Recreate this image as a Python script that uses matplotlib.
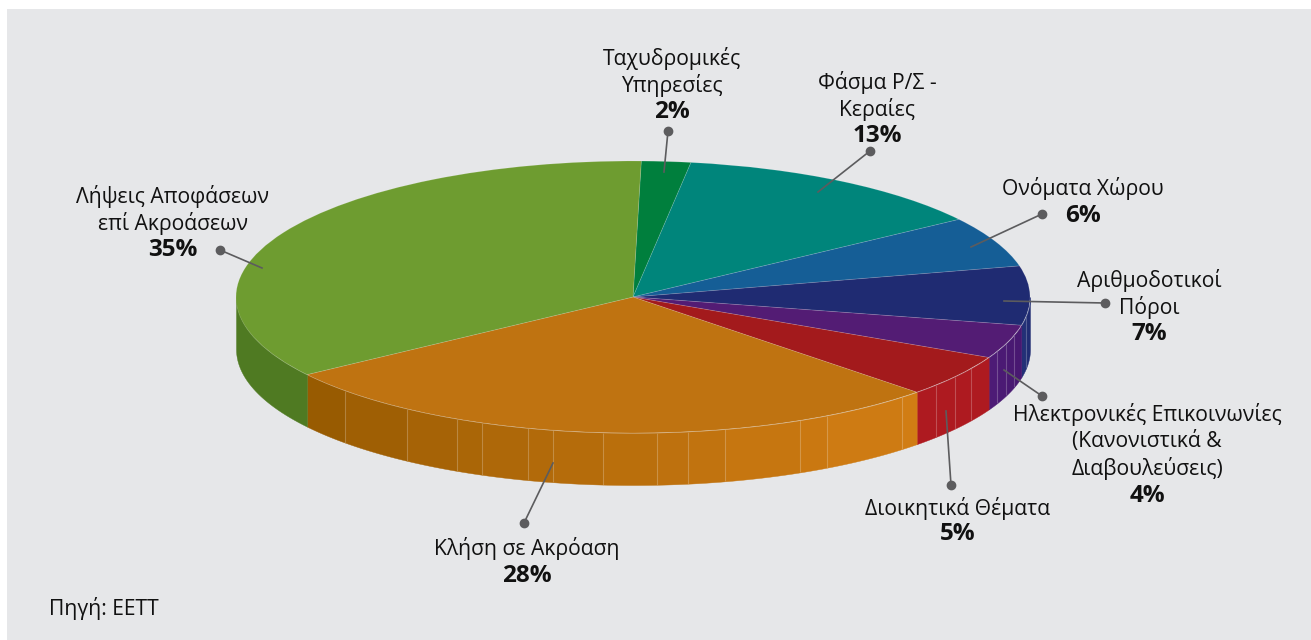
import numpy as np
import matplotlib
matplotlib.use('Agg')
import matplotlib.pyplot as plt
from matplotlib.colors import to_rgb
from matplotlib.patches import Rectangle

plt.rcParams['font.family'] = ['Open Sans', 'DejaVu Sans']

W, H = 1311, 640

names = ['Ταχυδρομικές\nΥπηρεσίες', 'Φάσμα Ρ/Σ -\nΚεραίες', 'Ονόματα Χώρου', 'Αριθμοδοτικοί\nΠόροι',
         'Ηλεκτρονικές Επικοινωνίες\n(Κανονιστικά &\nΔιαβουλεύσεις)', 'Διοικητικά Θέματα',
         'Κλήση σε Ακρόαση', 'Λήψεις Αποφάσεων\nεπί Ακροάσεων']
shares = [2, 13, 6, 7, 4, 5, 28, 35]
top_colors = ['#007F3D', '#00857B', '#155E96', '#1F2B72', '#531C74', '#A31A1C', '#BF7311', '#6E9C30']
side_left = ['#007F3D', '#00857B', '#155E96', '#26337A', '#4F1C78', '#AE1A20', '#935800', '#4F7A22']
side_right = ['#007F3D', '#00857B', '#155E96', '#1F2B72', '#471870', '#AE1A20', '#D27D14', '#4F7A22']

# where the pale seams sit on the rim, as x on the unit pie
seams = [-0.725, -0.569, -0.443, -0.380, -0.264, -0.202, -0.076, 0.060, 0.139, 0.232, 0.421, 0.489, 0.678,
         0.763, 0.811, 0.851, 0.917, 0.940, 0.960, 0.990]

# label text anchor, leader dot and leader end, in pixels
label_xy = [(672, 58), (877, 82), (1083, 189), (1149, 280), (1147, 414), (958, 508), (527, 549), (173, 196)]
dot_xy = [(668, 131), (870, 151), (1042, 214), (1105, 303), (1042, 396), (951, 485), (524, 523), (220, 250)]
end_xy = [(664, 172), (818, 192), (971, 247), (1004, 301), (1004, 370), (946, 411), (553, 463), (262, 268)]
line_px = 27.5

cx, cy, rx, ry, depth = 633, 297, 397, 136, 52
start = 88.8

fig = plt.figure(figsize=(W / 100, H / 100), dpi=100)
bg = fig.add_axes([0, 0, 1, 1])
bg.set_xlim(0, W)
bg.set_ylim(H, 0)
bg.axis('off')
bg.add_patch(Rectangle((7, 9), W - 7, H - 9, fc='#E6E7E9', ec='none'))

ax = fig.add_axes([(cx - rx) / W, 1 - (cy + ry) / H, 2 * rx / W, 2 * ry / H])
ax.patch.set_alpha(0)

# rim first, the top goes over it
d = depth / ry
edges = start - 360 * np.cumsum([0] + shares) / sum(shares)
seam_deg = -np.degrees(np.arccos(seams))
for i in range(len(shares)):
    a1, a2 = min(edges[i], 0), max(edges[i + 1], -180)
    if a1 <= a2:
        continue
    inner = [s for s in seam_deg if a2 < s < a1]
    stops = [a2] + inner + [a1]
    c0, c1 = np.array(to_rgb(side_left[i])), np.array(to_rgb(side_right[i]))
    x0, x1 = np.cos(np.radians(a2)), np.cos(np.radians(a1))
    for k in range(len(stops) - 1):
        t = np.radians(np.linspace(stops[k], stops[k + 1], 30))
        f = ((np.cos(t).mean() - x0) / (x1 - x0)) ** 0.75
        col = c0 + (c1 - c0) * f
        ax.fill_between(np.cos(t), np.sin(t), np.sin(t) - d, color=col, lw=0.3, clip_on=False)
    for s in inner:
        t = np.radians(s)
        ax.plot([np.cos(t)] * 2, [np.sin(t), np.sin(t) - d], color='white', alpha=0.18, lw=0.8,
                clip_on=False, solid_capstyle='butt')

wedges, _ = ax.pie(shares, colors=top_colors, startangle=start, counterclock=False, radius=1,
                   wedgeprops={'edgecolor': (1, 1, 1, 0.15), 'linewidth': 0.6})
for w in wedges:
    w.set_clip_on(False)
ax.set_aspect('auto')
ax.set_xlim(-1, 1)
ax.set_ylim(-1, 1)

# labels and leaders on top
over = fig.add_axes([0, 0, 1, 1])
over.set_xlim(0, W)
over.set_ylim(H, 0)
over.axis('off')
for name, share, (tx, ty), (dx, dy), (ex, ey) in zip(names, shares, label_xy, dot_xy, end_xy):
    over.plot([dx, ex], [dy, ey], color='#5C5C5E', lw=1.2)
    over.plot([dx], [dy], 'o', color='#5C5C5E', ms=6)
    lines = name.split('\n')
    for j, s in enumerate(lines):
        over.text(tx, ty + j * line_px, s, ha='center', va='center', fontsize=15.2, color='#111111')
    over.text(tx, ty + len(lines) * line_px - 1, f'{share}%', ha='center', va='center', fontsize=17.5,
              fontweight='bold', color='#111111')

over.text(49, 608, 'Πηγή: ΕΕΤΤ', ha='left', va='center', fontsize=15.2, color='#111111')

fig.savefig('out.png', dpi=100)
